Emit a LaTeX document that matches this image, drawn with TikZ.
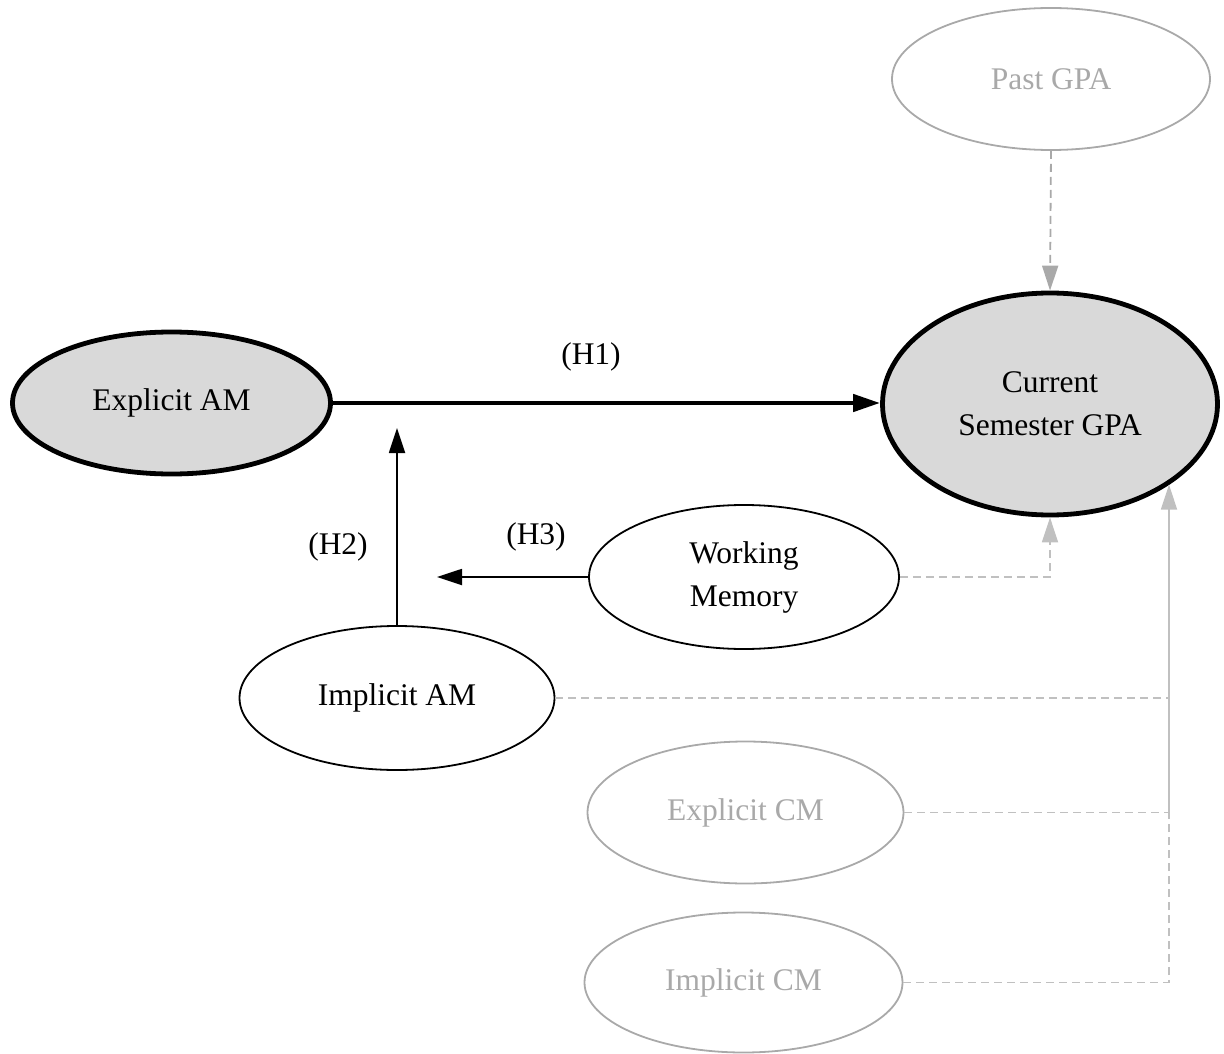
\documentclass[tikz,border=0pt]{standalone}
\usepackage{fontspec}
\setmainfont{Liberation Serif}
\usetikzlibrary{shapes.geometric,arrows.meta}
\definecolor{fillgray}{HTML}{D9D9D9}
\definecolor{edgegray}{HTML}{A9A9A9}
\definecolor{dashgray}{HTML}{C0C0C0}
\tikzset{
  var/.style={ellipse, draw=black, line width=1.8pt, inner sep=0pt, align=center,
    font=\fontsize{31.5}{43}\selectfont},
  keyvar/.style={var, line width=4.8pt, fill=fillgray},
  ctrlvar/.style={var, draw=edgegray, text=edgegray},
  hyparrow/.style={line width=1.8pt, -{Triangle[length=25pt,width=16pt]}},
  mainarrow/.style={line width=4.5pt, -{Triangle[length=27pt,width=17pt]}},
  ctrlline/.style={draw=dashgray, line width=1.8pt, dash pattern=on 8pt off 5pt},
  ctrlarrow/.style={ctrlline, -{Triangle[length=25pt,width=16pt]}, dashgray},
  hlabel/.style={font=\fontsize{31.5}{36}\selectfont, inner sep=0pt}
}
\begin{document}
\begin{tikzpicture}[x=1pt,y=-1pt]
\useasboundingbox (0,0) rectangle (1224,1054);
% nodes
\node[keyvar, minimum width=318pt, minimum height=142pt] (eam) at (171.5,403) {Explicit AM};
\node[keyvar, minimum width=335pt, minimum height=222pt] (cgpa) at (1050,404) {Current\\Semester GPA};
\node[ctrlvar, minimum width=318pt, minimum height=142pt] (past) at (1051,79) {Past GPA};
\node[var, minimum width=310pt, minimum height=144pt] (wm) at (744,577) {Working\\Memory};
\node[var, minimum width=315pt, minimum height=144pt] (iam) at (397,698) {Implicit AM};
\node[ctrlvar, minimum width=316pt, minimum height=142pt] (ecm) at (745.5,812.5) {Explicit CM};
\node[ctrlvar, minimum width=318pt, minimum height=140pt] (icm) at (743.5,982.5) {Implicit CM};
% labels
\node[hlabel] (h1) at (591,357) {(H1)};
\node[hlabel] (h2) at (338,547) {(H2)};
\node[hlabel] (h3) at (536,537) {(H3)};
% coordinates
\coordinate (h2tip) at (397,428);
\coordinate (h3tip) at (437,577);
\coordinate (j1) at (1169,698);
\coordinate (j2) at (1169,812.5);
\coordinate (j3) at (1169,982.5);
% hypothesis arrows
\draw[mainarrow] (eam.east) -- (cgpa.west |- eam.east);
\draw[hyparrow] (iam.north) -- (h2tip);
\draw[hyparrow] (wm.west) -- (h3tip);
% control paths
\draw[ctrlline, draw=edgegray, -{Triangle[length=25pt,width=16pt]}, edgegray] (past.south) -- (cgpa.north);
\draw[ctrlarrow] (wm.east) -| (cgpa.south);
\draw[ctrlline] (iam.east) -- (j1);
\draw[ctrlline] (ecm.east) -- (j2);
\draw[ctrlline] (icm.east) -- (j3) -- (j2);
\draw[draw=dashgray, line width=1.8pt, -{Triangle[length=25pt,width=16pt]}, dashgray] (j2) -- (j2 |- cgpa.-34);
\end{tikzpicture}
\end{document}
